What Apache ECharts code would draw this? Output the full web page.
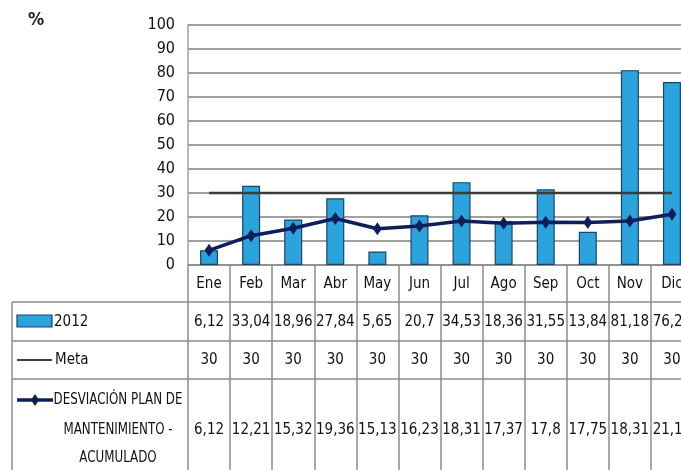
<!DOCTYPE html>
<html>
<head>
<meta charset="utf-8">
<script src="https://cdn.jsdelivr.net/npm/echarts@6/dist/echarts.min.js"></script>
<style>
html,body{margin:0;padding:0;overflow:hidden;background:#fff;}
#c{width:700px;height:470px;}
</style>
</head>
<body>
<div id="c"></div>
<script>
var months = ['Ene','Feb','Mar','Abr','May','Jun','Jul','Ago','Sep','Oct','Nov','Dic'];
var values2012 = [6.12, 33.04, 18.96, 27.84, 5.65, 20.7, 34.53, 18.36, 31.55, 13.84, 81.18, 76.24];
var meta = [30, 30, 30, 30, 30, 30, 30, 30, 30, 30, 30, 30];
var desviacion = [6.12, 12.21, 15.32, 19.36, 15.13, 16.23, 18.31, 17.37, 17.8, 17.75, 18.31, 21.12];
var yTicks = {min: 0, max: 100, interval: 10};

var FONT = '"Liberation Sans Narrow","DejaVu Sans Condensed",sans-serif';
var BAR = '#2ba3dc', BAR_BORDER = '#1b4466', LINE = '#0f1f5a', META = '#3c3c3c', GRID = '#a0a0a0', TABLE = '#8c8c8c';
function fmt(v){ return String(v).replace('.', ','); }

function rowAxis(arr, offset){
  return {
    type: 'category', data: months, gridIndex: 0, position: 'bottom', offset: offset,
    axisLine: {show: false}, axisTick: {show: false},
    axisLabel: {interval: 0, margin: 0, verticalAlign: 'middle', fontFamily: FONT, fontSize: 15, color: '#111',
      formatter: function(v, i){ return fmt(arr[i]); }}
  };
}
function scaledText(txt, x, y){
  return {type: 'group', x: x, y: y, scaleX: 0.88, children: [
    {type: 'text', x: 0, y: 0, style: {text: txt, fontFamily: FONT, fontSize: 15, fill: '#111', align: 'center', verticalAlign: 'middle'}}
  ]};
}

var chart = echarts.init(document.getElementById('c'));
chart.setOption({
  animation: false,
  grid: {left: 188, top: 25, width: 505, height: 240, containLabel: false},
  xAxis: [
    {
      type: 'category', data: months, position: 'bottom',
      axisLine: {show: true, lineStyle: {color: TABLE, width: 1.5}},
      axisTick: {show: true, interval: 0, length: 215, lineStyle: {color: TABLE, width: 1.5}},
      axisLabel: {interval: 0, margin: 19, verticalAlign: 'middle', fontFamily: FONT, fontSize: 15, color: '#111'}
    },
    rowAxis(values2012, 57),
    rowAxis(meta, 95),
    rowAxis(desviacion, 165)
  ],
  yAxis: {
    type: 'value', min: yTicks.min, max: yTicks.max, interval: yTicks.interval,
    axisLine: {show: true, lineStyle: {color: GRID, width: 1.5}},
    axisTick: {show: false},
    axisLabel: {margin: 13, fontFamily: FONT, fontSize: 16, color: '#111'},
    splitLine: {show: true, lineStyle: {color: GRID, width: 1.8}}
  },
  series: [
    {
      name: '2012', type: 'bar', data: values2012, barWidth: 18,
      itemStyle: {color: BAR, borderColor: BAR_BORDER, borderWidth: 1.2}
    },
    {
      name: 'Meta', type: 'line', data: meta, symbol: 'none',
      lineStyle: {color: META, width: 2.5}
    },
    {
      name: 'DESVIACIÓN PLAN DE MANTENIMIENTO - ACUMULADO', type: 'line', data: desviacion,
      symbol: 'diamond', symbolSize: [9, 13],
      itemStyle: {color: LINE}, lineStyle: {color: LINE, width: 3.5}
    }
  ],
  graphic: [
    {type: 'text', left: 28, top: 11, style: {text: '%', fontFamily: FONT, fontSize: 18, fontWeight: 'bold', fill: '#222'}},
    {type: 'line', shape: {x1: 12, y1: 302, x2: 700, y2: 302}, style: {stroke: TABLE, lineWidth: 1.5}},
    {type: 'line', shape: {x1: 12, y1: 341, x2: 700, y2: 341}, style: {stroke: TABLE, lineWidth: 1.5}},
    {type: 'line', shape: {x1: 12, y1: 379, x2: 700, y2: 379}, style: {stroke: TABLE, lineWidth: 1.5}},
    {type: 'line', shape: {x1: 12, y1: 302, x2: 12, y2: 470}, style: {stroke: TABLE, lineWidth: 1.5}},
    {type: 'rect', shape: {x: 17, y: 315, width: 35, height: 12}, style: {fill: BAR, stroke: BAR_BORDER, lineWidth: 1.2}},
    {type: 'text', x: 54, y: 322, style: {text: '2012', fontFamily: FONT, fontSize: 15, fill: '#111', verticalAlign: 'middle'}},
    {type: 'line', shape: {x1: 17, y1: 360, x2: 52, y2: 360}, style: {stroke: META, lineWidth: 2}},
    {type: 'text', x: 55, y: 360, style: {text: 'Meta', fontFamily: FONT, fontSize: 15, fill: '#111', verticalAlign: 'middle'}},
    {type: 'line', shape: {x1: 17, y1: 400, x2: 53, y2: 400}, style: {stroke: LINE, lineWidth: 3.5}},
    {type: 'polygon', shape: {points: [[35, 394], [39, 400], [35, 406], [31, 400]]}, style: {fill: LINE}},
    scaledText('DESVIACIÓN PLAN DE', 118, 400),
    scaledText('MANTENIMIENTO -', 118, 430),
    scaledText('ACUMULADO', 118, 458)
  ]
});
</script>
</body>
</html>
